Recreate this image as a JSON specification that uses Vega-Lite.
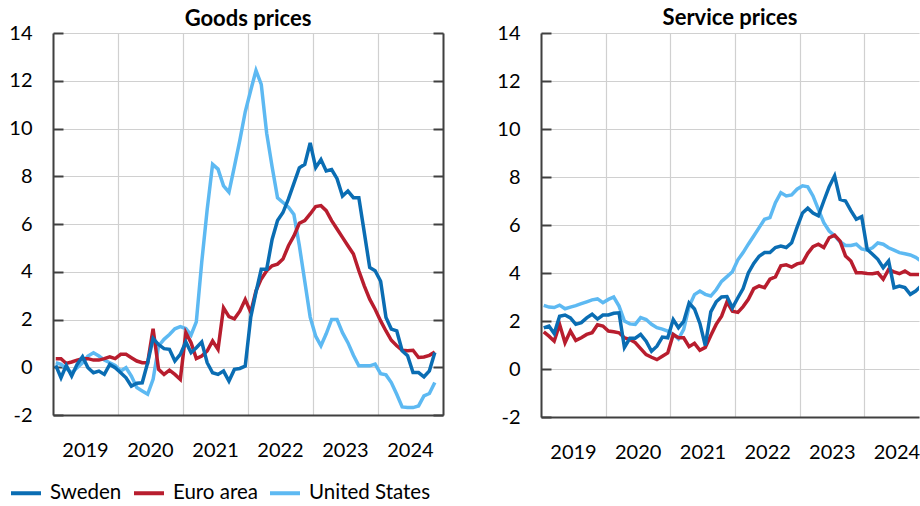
{
  "$schema": "https://vega.github.io/schema/vega-lite/v6.json",
  "padding": {"left": 8, "top": 6, "right": 0, "bottom": 0},
  "background": "white",
  "config": {
    "font": "Lato",
    "view": {"stroke": null},
    "axis": {"labelFont": "Lato", "labelFontSize": 20, "labelColor": "#000000", "title": null},
    "legend": {"orient": "none", "legendX": -44, "legendY": 443, "direction": "horizontal", "title": null, "symbolType": "stroke", "symbolSize": 900, "symbolStrokeWidth": 4, "labelFont": "Lato", "labelFontSize": 20.5, "labelColor": "#000000", "labelOffset": 7, "columnPadding": 4},
    "title": {"font": "Lato", "fontSize": 22, "fontWeight": "bold", "color": "#000000", "anchor": "middle"}
  },
  "datasets": {
    "goods": [
      {"date":"2019-01","Sweden":0.08,"Euro area":0.36,"United States":0.19},
      {"date":"2019-02","Sweden":-0.44,"Euro area":0.36,"United States":0.12},
      {"date":"2019-03","Sweden":0.08,"Euro area":0.16,"United States":-0.06},
      {"date":"2019-04","Sweden":-0.37,"Euro area":0.22,"United States":-0.23},
      {"date":"2019-05","Sweden":0.12,"Euro area":0.3,"United States":-0.02},
      {"date":"2019-06","Sweden":0.44,"Euro area":0.36,"United States":0.19},
      {"date":"2019-07","Sweden":-0.02,"Euro area":0.36,"United States":0.47},
      {"date":"2019-08","Sweden":-0.23,"Euro area":0.3,"United States":0.61},
      {"date":"2019-09","Sweden":-0.16,"Euro area":0.3,"United States":0.47},
      {"date":"2019-10","Sweden":-0.3,"Euro area":0.36,"United States":0.3},
      {"date":"2019-11","Sweden":0.12,"Euro area":0.44,"United States":0.19},
      {"date":"2019-12","Sweden":-0.02,"Euro area":0.36,"United States":0.08},
      {"date":"2020-01","Sweden":-0.23,"Euro area":0.54,"United States":-0.16},
      {"date":"2020-02","Sweden":-0.44,"Euro area":0.54,"United States":-0.02},
      {"date":"2020-03","Sweden":-0.79,"Euro area":0.4,"United States":-0.37},
      {"date":"2020-04","Sweden":-0.67,"Euro area":0.26,"United States":-0.85},
      {"date":"2020-05","Sweden":-0.65,"Euro area":0.19,"United States":-0.99},
      {"date":"2020-06","Sweden":0.19,"Euro area":0.19,"United States":-1.13},
      {"date":"2020-07","Sweden":1.21,"Euro area":1.61,"United States":-0.51},
      {"date":"2020-08","Sweden":0.95,"Euro area":-0.09,"United States":0.89},
      {"date":"2020-09","Sweden":0.78,"Euro area":-0.3,"United States":1.17},
      {"date":"2020-10","Sweden":0.75,"Euro area":-0.12,"United States":1.37},
      {"date":"2020-11","Sweden":0.26,"Euro area":-0.3,"United States":1.61},
      {"date":"2020-12","Sweden":0.54,"Euro area":-0.51,"United States":1.7},
      {"date":"2021-01","Sweden":1.06,"Euro area":1.45,"United States":1.62},
      {"date":"2021-02","Sweden":0.61,"Euro area":1.03,"United States":1.35},
      {"date":"2021-03","Sweden":0.82,"Euro area":0.36,"United States":1.9},
      {"date":"2021-04","Sweden":1.06,"Euro area":0.47,"United States":4.4},
      {"date":"2021-05","Sweden":0.19,"Euro area":0.68,"United States":6.6},
      {"date":"2021-06","Sweden":-0.23,"Euro area":1.1,"United States":8.5},
      {"date":"2021-07","Sweden":-0.3,"Euro area":0.75,"United States":8.3},
      {"date":"2021-08","Sweden":-0.16,"Euro area":2.49,"United States":7.6},
      {"date":"2021-09","Sweden":-0.58,"Euro area":2.12,"United States":7.33},
      {"date":"2021-10","Sweden":-0.09,"Euro area":2.03,"United States":8.4},
      {"date":"2021-11","Sweden":-0.05,"Euro area":2.35,"United States":9.5},
      {"date":"2021-12","Sweden":0.05,"Euro area":2.84,"United States":10.7},
      {"date":"2022-01","Sweden":2.1,"Euro area":2.3,"United States":11.6},
      {"date":"2022-02","Sweden":3.15,"Euro area":3.2,"United States":12.43},
      {"date":"2022-03","Sweden":4.1,"Euro area":3.7,"United States":11.85},
      {"date":"2022-04","Sweden":4.1,"Euro area":4.04,"United States":9.8},
      {"date":"2022-05","Sweden":5.35,"Euro area":4.25,"United States":8.4},
      {"date":"2022-06","Sweden":6.15,"Euro area":4.32,"United States":7.1},
      {"date":"2022-07","Sweden":6.48,"Euro area":4.53,"United States":6.9},
      {"date":"2022-08","Sweden":7.05,"Euro area":5.09,"United States":6.7},
      {"date":"2022-09","Sweden":7.7,"Euro area":5.5,"United States":6.4},
      {"date":"2022-10","Sweden":8.35,"Euro area":6.03,"United States":5.1},
      {"date":"2022-11","Sweden":8.5,"Euro area":6.14,"United States":3.6},
      {"date":"2022-12","Sweden":9.4,"Euro area":6.42,"United States":2.1},
      {"date":"2023-01","Sweden":8.36,"Euro area":6.73,"United States":1.3},
      {"date":"2023-02","Sweden":8.7,"Euro area":6.77,"United States":0.9},
      {"date":"2023-03","Sweden":8.22,"Euro area":6.56,"United States":1.4},
      {"date":"2023-04","Sweden":8.28,"Euro area":6.14,"United States":2.0},
      {"date":"2023-05","Sweden":7.9,"Euro area":5.79,"United States":2.0},
      {"date":"2023-06","Sweden":7.17,"Euro area":5.44,"United States":1.45},
      {"date":"2023-07","Sweden":7.38,"Euro area":5.09,"United States":1.03},
      {"date":"2023-08","Sweden":7.1,"Euro area":4.74,"United States":0.5},
      {"date":"2023-09","Sweden":7.1,"Euro area":4.04,"United States":0.06},
      {"date":"2023-10","Sweden":5.65,"Euro area":3.41,"United States":0.06},
      {"date":"2023-11","Sweden":4.18,"Euro area":2.85,"United States":0.06},
      {"date":"2023-12","Sweden":4.04,"Euro area":2.43,"United States":0.13},
      {"date":"2024-01","Sweden":3.6,"Euro area":1.94,"United States":-0.27},
      {"date":"2024-02","Sweden":2.08,"Euro area":1.52,"United States":-0.32},
      {"date":"2024-03","Sweden":1.6,"Euro area":1.13,"United States":-0.64},
      {"date":"2024-04","Sweden":1.52,"Euro area":0.9,"United States":-1.13},
      {"date":"2024-05","Sweden":0.69,"Euro area":0.71,"United States":-1.66},
      {"date":"2024-06","Sweden":0.48,"Euro area":0.69,"United States":-1.69},
      {"date":"2024-07","Sweden":-0.22,"Euro area":0.71,"United States":-1.69},
      {"date":"2024-08","Sweden":-0.22,"Euro area":0.41,"United States":-1.62},
      {"date":"2024-09","Sweden":-0.4,"Euro area":0.43,"United States":-1.2},
      {"date":"2024-10","Sweden":-0.15,"Euro area":0.5,"United States":-1.1},
      {"date":"2024-11","Sweden":0.62,"Euro area":0.64,"United States":-0.64}
    ],
    "services": [
      {"date":"2019-01","Sweden":1.71,"Euro area":1.55,"United States":2.65},
      {"date":"2019-02","Sweden":1.79,"Euro area":1.37,"United States":2.58},
      {"date":"2019-03","Sweden":1.48,"Euro area":1.16,"United States":2.56},
      {"date":"2019-04","Sweden":2.2,"Euro area":1.86,"United States":2.66},
      {"date":"2019-05","Sweden":2.25,"Euro area":1.09,"United States":2.51},
      {"date":"2019-06","Sweden":2.13,"Euro area":1.58,"United States":2.58},
      {"date":"2019-07","Sweden":1.86,"Euro area":1.19,"United States":2.64},
      {"date":"2019-08","Sweden":1.93,"Euro area":1.3,"United States":2.72},
      {"date":"2019-09","Sweden":2.13,"Euro area":1.44,"United States":2.8},
      {"date":"2019-10","Sweden":2.28,"Euro area":1.51,"United States":2.88},
      {"date":"2019-11","Sweden":2.08,"Euro area":1.84,"United States":2.92},
      {"date":"2019-12","Sweden":2.25,"Euro area":1.79,"United States":2.76},
      {"date":"2020-01","Sweden":2.25,"Euro area":1.58,"United States":2.9},
      {"date":"2020-02","Sweden":2.32,"Euro area":1.55,"United States":3.0},
      {"date":"2020-03","Sweden":2.34,"Euro area":1.51,"United States":2.62},
      {"date":"2020-04","Sweden":0.9,"Euro area":1.3,"United States":2.0},
      {"date":"2020-05","Sweden":1.28,"Euro area":1.23,"United States":1.88},
      {"date":"2020-06","Sweden":1.28,"Euro area":1.1,"United States":1.86},
      {"date":"2020-07","Sweden":1.44,"Euro area":0.85,"United States":2.14},
      {"date":"2020-08","Sweden":1.16,"Euro area":0.6,"United States":2.06},
      {"date":"2020-09","Sweden":0.74,"Euro area":0.49,"United States":1.86},
      {"date":"2020-10","Sweden":0.95,"Euro area":0.39,"United States":1.72},
      {"date":"2020-11","Sweden":1.33,"Euro area":0.53,"United States":1.66},
      {"date":"2020-12","Sweden":1.3,"Euro area":0.67,"United States":1.58},
      {"date":"2021-01","Sweden":2.06,"Euro area":1.44,"United States":1.45},
      {"date":"2021-02","Sweden":1.72,"Euro area":1.3,"United States":1.25},
      {"date":"2021-03","Sweden":1.98,"Euro area":1.3,"United States":1.65},
      {"date":"2021-04","Sweden":2.75,"Euro area":0.93,"United States":2.6},
      {"date":"2021-05","Sweden":2.5,"Euro area":1.07,"United States":3.1},
      {"date":"2021-06","Sweden":1.9,"Euro area":0.78,"United States":3.25},
      {"date":"2021-07","Sweden":0.98,"Euro area":0.9,"United States":3.11},
      {"date":"2021-08","Sweden":2.38,"Euro area":1.4,"United States":3.04},
      {"date":"2021-09","Sweden":2.8,"Euro area":1.86,"United States":3.3},
      {"date":"2021-10","Sweden":3.0,"Euro area":2.2,"United States":3.65},
      {"date":"2021-11","Sweden":3.02,"Euro area":2.8,"United States":3.85},
      {"date":"2021-12","Sweden":2.55,"Euro area":2.41,"United States":4.05},
      {"date":"2022-01","Sweden":2.97,"Euro area":2.36,"United States":4.55},
      {"date":"2022-02","Sweden":3.35,"Euro area":2.6,"United States":4.85},
      {"date":"2022-03","Sweden":4.0,"Euro area":2.9,"United States":5.2},
      {"date":"2022-04","Sweden":4.4,"Euro area":3.35,"United States":5.54},
      {"date":"2022-05","Sweden":4.7,"Euro area":3.46,"United States":5.89},
      {"date":"2022-06","Sweden":4.85,"Euro area":3.39,"United States":6.24},
      {"date":"2022-07","Sweden":4.85,"Euro area":3.74,"United States":6.31},
      {"date":"2022-08","Sweden":5.06,"Euro area":3.84,"United States":6.93},
      {"date":"2022-09","Sweden":5.12,"Euro area":4.3,"United States":7.35},
      {"date":"2022-10","Sweden":5.06,"Euro area":4.34,"United States":7.21},
      {"date":"2022-11","Sweden":5.26,"Euro area":4.25,"United States":7.25},
      {"date":"2022-12","Sweden":5.9,"Euro area":4.38,"United States":7.49},
      {"date":"2023-01","Sweden":6.5,"Euro area":4.43,"United States":7.63},
      {"date":"2023-02","Sweden":6.7,"Euro area":4.82,"United States":7.59},
      {"date":"2023-03","Sweden":6.5,"Euro area":5.1,"United States":7.21},
      {"date":"2023-04","Sweden":6.38,"Euro area":5.2,"United States":6.65},
      {"date":"2023-05","Sweden":7.0,"Euro area":5.06,"United States":6.1},
      {"date":"2023-06","Sweden":7.6,"Euro area":5.47,"United States":5.75},
      {"date":"2023-07","Sweden":8.05,"Euro area":5.58,"United States":5.55},
      {"date":"2023-08","Sweden":7.07,"Euro area":5.33,"United States":5.3},
      {"date":"2023-09","Sweden":7.0,"Euro area":4.71,"United States":5.15},
      {"date":"2023-10","Sweden":6.6,"Euro area":4.5,"United States":5.15},
      {"date":"2023-11","Sweden":6.24,"Euro area":4.01,"United States":5.2},
      {"date":"2023-12","Sweden":6.35,"Euro area":4.01,"United States":5.0},
      {"date":"2024-01","Sweden":4.98,"Euro area":3.98,"United States":4.95},
      {"date":"2024-02","Sweden":4.78,"Euro area":3.97,"United States":5.05},
      {"date":"2024-03","Sweden":4.57,"Euro area":4.01,"United States":5.25},
      {"date":"2024-04","Sweden":4.22,"Euro area":3.74,"United States":5.2},
      {"date":"2024-05","Sweden":4.5,"Euro area":4.15,"United States":5.05},
      {"date":"2024-06","Sweden":3.39,"Euro area":4.05,"United States":4.95},
      {"date":"2024-07","Sweden":3.46,"Euro area":3.97,"United States":4.85},
      {"date":"2024-08","Sweden":3.39,"Euro area":4.08,"United States":4.8},
      {"date":"2024-09","Sweden":3.11,"Euro area":3.94,"United States":4.75},
      {"date":"2024-10","Sweden":3.25,"Euro area":3.94,"United States":4.65},
      {"date":"2024-11","Sweden":3.46,"Euro area":3.94,"United States":4.5}
    ]
  },
  "spacing": 21,
  "hconcat": [
    {
      "title": {"text": "Goods prices", "offset": -8.2},
      "width": 390,
      "height": 382,
      "data": {"name": "goods"},
      "transform": [{"fold": ["United States", "Euro area", "Sweden"], "as": ["series", "value"]}],
      "layer": [
        {
          "mark": {"type": "line", "strokeWidth": 3.5, "clip": true},
          "encoding": {
            "x": {"field": "date", "timeUnit": "utcyearmonth", "type": "temporal", "bandPosition": 0.5,
              "scale": {"type": "utc", "domain": [{"year": 2019, "month": 1, "date": 1, "utc": true}, {"year": 2025, "month": 1, "date": 1, "utc": true}]},
              "axis": {"values": [{"year": 2019, "month": 1, "date": 1, "utc": true}, {"year": 2020, "month": 1, "date": 1, "utc": true}, {"year": 2021, "month": 1, "date": 1, "utc": true}, {"year": 2022, "month": 1, "date": 1, "utc": true}, {"year": 2023, "month": 1, "date": 1, "utc": true}, {"year": 2024, "month": 1, "date": 1, "utc": true}, {"year": 2025, "month": 1, "date": 1, "utc": true}],
                "labelExpr": "utcyear(datum.value) >= 2025 ? '' : utcFormat(datum.value, '%Y')", "labelOffset": 32, "labelOverlap": false, "labelFlush": false, "labelPadding": 25,
                "ticks": false, "grid": true, "gridColor": "#d0d0d0", "gridWidth": 1.2, "domainColor": "#404040", "domainWidth": 2}},
            "y": {"field": "value", "type": "quantitative", "scale": {"domain": [-2, 14], "nice": false, "zero": false},
              "axis": {"values": [-2, 0, 2, 4, 6, 8, 10, 12, 14], "labelExpr": "'' + datum.value", "tickSize": -10, "tickWidth": 2, "tickColor": "#404040", "domainColor": "#404040", "domainWidth": 2, "grid": true, "gridColor": "#d0d0d0", "gridWidth": 1.2, "labelPadding": 31}},
            "color": {"field": "series", "type": "nominal", "scale": {"domain": ["Sweden", "Euro area", "United States"], "range": ["#0a6db3", "#b81d2e", "#5db9f2"]}}
          }
        },
        {
          "mark": {"type": "point", "opacity": 0},
          "encoding": {
            "x": {"field": "date", "timeUnit": "utcyearmonth", "type": "temporal", "bandPosition": 0.5},
            "y": {"field": "value", "type": "quantitative",
              "axis": {"orient": "right", "values": [-2, 0, 2, 4, 6, 8, 10, 12, 14], "labels": false, "grid": false, "tickSize": -10, "tickWidth": 2, "tickColor": "#404040", "domainColor": "#404040", "domainWidth": 2}}
          }
        }
      ],
      "resolve": {"axis": {"y": "independent"}}
    },
    {
      "title": {"text": "Service prices", "offset": -6.5},
      "width": 378,
      "height": 384,
      "data": {"name": "services"},
      "transform": [{"fold": ["United States", "Euro area", "Sweden"], "as": ["series", "value"]}],
      "mark": {"type": "line", "strokeWidth": 3.5, "clip": true},
      "encoding": {
        "x": {"field": "date", "timeUnit": "utcyearmonth", "type": "temporal", "bandPosition": 0.5,
          "scale": {"type": "utc", "domain": [{"year": 2019, "month": 1, "date": 1, "utc": true}, {"year": 2024, "month": 11, "date": 4, "utc": true}]},
          "axis": {"values": [{"year": 2019, "month": 1, "date": 1, "utc": true}, {"year": 2020, "month": 1, "date": 1, "utc": true}, {"year": 2021, "month": 1, "date": 1, "utc": true}, {"year": 2022, "month": 1, "date": 1, "utc": true}, {"year": 2023, "month": 1, "date": 1, "utc": true}, {"year": 2024, "month": 1, "date": 1, "utc": true}],
            "labelExpr": "utcFormat(datum.value, '%Y')", "labelOffset": 32, "labelOverlap": false, "labelFlush": false, "labelPadding": 25,
            "ticks": false, "grid": true, "gridColor": "#d0d0d0", "gridWidth": 1.2, "domainColor": "#404040", "domainWidth": 2}},
        "y": {"field": "value", "type": "quantitative", "scale": {"domain": [-2, 14], "nice": false, "zero": false},
          "axis": {"values": [-2, 0, 2, 4, 6, 8, 10, 12, 14], "labelExpr": "'' + datum.value", "tickSize": -10, "tickWidth": 2, "tickColor": "#404040", "domainColor": "#404040", "domainWidth": 2, "grid": true, "gridColor": "#d0d0d0", "gridWidth": 1.2, "labelPadding": 31}},
        "color": {"field": "series", "type": "nominal", "scale": {"domain": ["Sweden", "Euro area", "United States"], "range": ["#0a6db3", "#b81d2e", "#5db9f2"]}}
      }
    }
  ]
}
